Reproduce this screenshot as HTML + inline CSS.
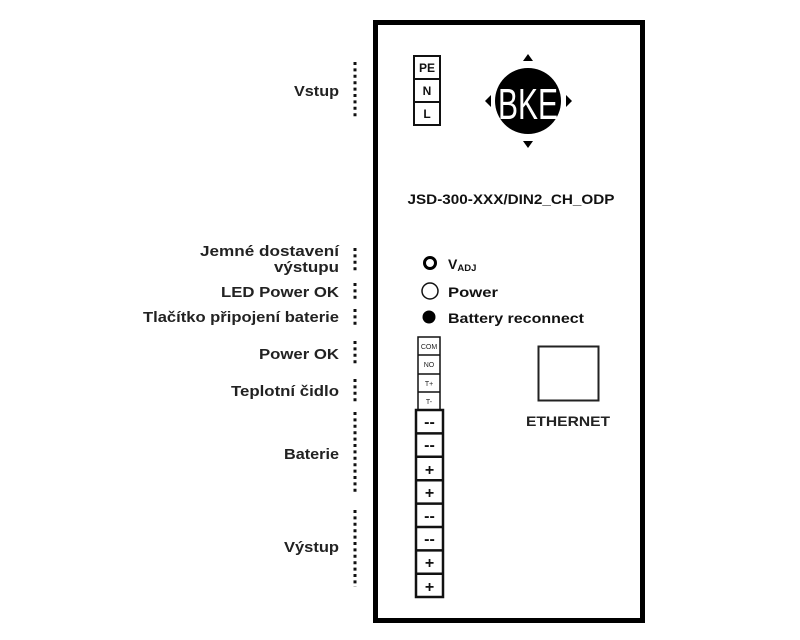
<!DOCTYPE html>
<html><head><meta charset="utf-8"><style>
html,body{margin:0;padding:0;background:#fff;}
svg{display:block;font-family:"Liberation Sans",Arial,sans-serif;font-weight:bold;}
</style></head><body>
<svg width="800" height="640" viewBox="0 0 800 640" xmlns="http://www.w3.org/2000/svg">
<rect x="375.5" y="22.5" width="267" height="598" fill="none" stroke="#000" stroke-width="5"/>
<g stroke="#111" stroke-width="3" stroke-dasharray="3,3.4">
<line x1="355" y1="62" x2="355" y2="118"/>
<line x1="355" y1="248" x2="355" y2="273"/>
<line x1="355" y1="283" x2="355" y2="299"/>
<line x1="355" y1="309" x2="355" y2="326"/>
<line x1="355" y1="341" x2="355" y2="364"/>
<line x1="355" y1="379" x2="355" y2="404"/>
<line x1="355" y1="412" x2="355" y2="494"/>
<line x1="355" y1="510" x2="355" y2="587"/>
</g>
<g font-size="15" fill="#222" text-anchor="end">
<text x="339" y="96" textLength="45" lengthAdjust="spacingAndGlyphs">Vstup</text>
<text x="339" y="256" textLength="139" lengthAdjust="spacingAndGlyphs">Jemné dostavení</text>
<text x="339" y="272" textLength="65" lengthAdjust="spacingAndGlyphs">výstupu</text>
<text x="339" y="297" textLength="118" lengthAdjust="spacingAndGlyphs">LED Power OK</text>
<text x="339" y="322" textLength="196" lengthAdjust="spacingAndGlyphs">Tlačítko připojení baterie</text>
<text x="339" y="359" textLength="80" lengthAdjust="spacingAndGlyphs">Power OK</text>
<text x="339" y="396" textLength="108" lengthAdjust="spacingAndGlyphs">Teplotní čidlo</text>
<text x="339" y="459" textLength="55" lengthAdjust="spacingAndGlyphs">Baterie</text>
<text x="339" y="552" textLength="55" lengthAdjust="spacingAndGlyphs">Výstup</text>
</g>
<rect x="414" y="56" width="26" height="69" fill="none" stroke="#111" stroke-width="2"/>
<line x1="414" y1="79" x2="440" y2="79" stroke="#111" stroke-width="2"/>
<line x1="414" y1="102" x2="440" y2="102" stroke="#111" stroke-width="2"/>
<g font-size="12" fill="#111" text-anchor="middle">
<text x="427" y="72">PE</text><text x="427" y="95">N</text><text x="427" y="118">L</text>
</g>
<circle cx="528" cy="101" r="33" fill="#000"/>
<text x="528" y="119" font-size="44" fill="#fff" text-anchor="middle" font-weight="normal" textLength="60" lengthAdjust="spacingAndGlyphs">BKE</text>
<polygon points="528,54 523,61 533,61" fill="#000"/>
<polygon points="528,148 523,141 533,141" fill="#000"/>
<polygon points="485,101 491,95 491,107" fill="#000"/>
<polygon points="572,101 566,95 566,107" fill="#000"/>
<text x="511" y="204" font-size="14" fill="#111" text-anchor="middle" textLength="207" lengthAdjust="spacingAndGlyphs">JSD-300-XXX/DIN2_CH_ODP</text>
<circle cx="430" cy="263" r="5.5" fill="none" stroke="#000" stroke-width="3"/>
<text x="448" y="269" font-size="14" fill="#111">V<tspan font-size="9.5" dy="2">ADJ</tspan></text>
<circle cx="430" cy="291" r="8" fill="none" stroke="#111" stroke-width="1.5"/>
<text x="448" y="297" font-size="14" fill="#111" textLength="50" lengthAdjust="spacingAndGlyphs">Power</text>
<circle cx="429" cy="317" r="6.5" fill="#000"/>
<text x="448" y="323" font-size="14" fill="#111" textLength="136" lengthAdjust="spacingAndGlyphs">Battery reconnect</text>
<g stroke="#111" stroke-width="1.5" fill="none">
<rect x="418" y="337" width="22" height="73"/>
<line x1="418" y1="355" x2="440" y2="355"/>
<line x1="418" y1="374" x2="440" y2="374"/>
<line x1="418" y1="392" x2="440" y2="392"/>
</g>
<g font-size="7" fill="#222" text-anchor="middle" font-weight="normal">
<text x="429" y="349">COM</text><text x="429" y="367">NO</text><text x="429" y="386">T+</text><text x="429" y="404">T-</text>
</g>
<g stroke="#111" stroke-width="2.5" fill="none">
<rect x="416" y="410" width="27" height="187"/>
<line x1="416" y1="433.4" x2="443" y2="433.4"/>
<line x1="416" y1="456.8" x2="443" y2="456.8"/>
<line x1="416" y1="480.2" x2="443" y2="480.2"/>
<line x1="416" y1="503.6" x2="443" y2="503.6"/>
<line x1="416" y1="527" x2="443" y2="527"/>
<line x1="416" y1="550.4" x2="443" y2="550.4"/>
<line x1="416" y1="573.8" x2="443" y2="573.8"/>
</g>
<g font-size="16" fill="#111" text-anchor="middle">
<text x="429.5" y="427">--</text>
<text x="429.5" y="450">--</text>
<text x="429.5" y="475">+</text>
<text x="429.5" y="498">+</text>
<text x="429.5" y="521">--</text>
<text x="429.5" y="544">--</text>
<text x="429.5" y="568">+</text>
<text x="429.5" y="592">+</text>
</g>
<rect x="538.5" y="346.5" width="60" height="54" fill="none" stroke="#222" stroke-width="2"/>
<text x="568" y="426" font-size="14" fill="#222" text-anchor="middle" textLength="84" lengthAdjust="spacingAndGlyphs">ETHERNET</text>
</svg>
</body></html>
